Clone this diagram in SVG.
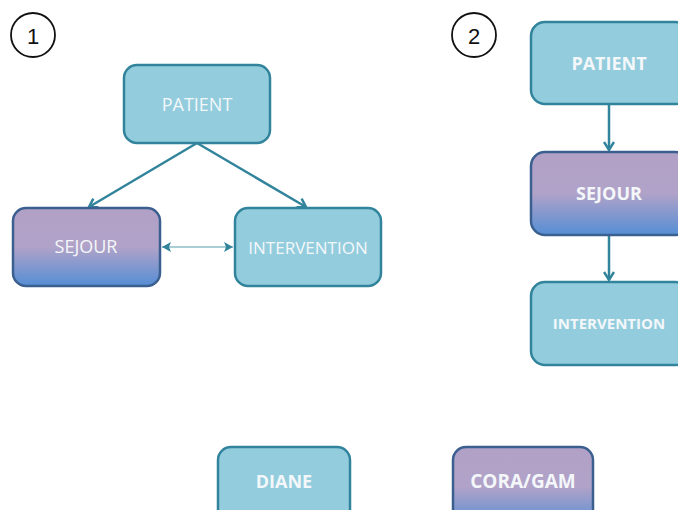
<svg xmlns="http://www.w3.org/2000/svg" width="678" height="510" viewBox="0 0 678 510">
<style>
.blue{fill:#93cddd;stroke:#31849b;stroke-width:2.5}
.purple{fill:url(#pg);stroke:#3b5f8f;stroke-width:2.5}
.t{font-family:"Open Sans","Noto Sans",sans-serif;font-size:18px;fill:#f4f7fa;text-anchor:middle;dominant-baseline:central}
.tb{font-weight:bold}
.num{font-family:"Liberation Sans",sans-serif;font-size:22px;fill:#111;text-anchor:middle;dominant-baseline:central}
.c{fill:#fff;stroke:#111;stroke-width:1.8}
.ln{stroke:#31849b;stroke-width:2.5;fill:none}
.thin{stroke:#8fbcc9;stroke-width:1.5;fill:none}
</style>
<defs>
<linearGradient id="pg" x1="0" y1="0" x2="0" y2="1">
<stop offset="0" stop-color="#b2a1c7"/>
<stop offset="0.5" stop-color="#b0a2c8"/>
<stop offset="1" stop-color="#558ed5"/>
</linearGradient>
<marker id="ah" markerWidth="12" markerHeight="12" refX="9" refY="6" orient="auto" markerUnits="userSpaceOnUse">
<path d="M1,1 L9,6 L1,11" fill="none" stroke="#31849b" stroke-width="2.5"/>
</marker>
<marker id="sa" markerWidth="10" markerHeight="12" refX="9" refY="6" orient="auto-start-reverse" markerUnits="userSpaceOnUse">
<path d="M0,1 L9,6 L0,11 L2,6 Z" fill="#31849b"/>
</marker>
</defs>
<g id="connectors">
<line class="ln" x1="197" y1="143" x2="89" y2="207" marker-end="url(#ah)"/>
<line class="ln" x1="197" y1="143" x2="306" y2="207" marker-end="url(#ah)"/>
<line class="thin" x1="162" y1="247" x2="233" y2="247" marker-start="url(#sa)" marker-end="url(#sa)"/>
<line class="ln" x1="609" y1="104" x2="609" y2="150" marker-end="url(#ah)"/>
<line class="ln" x1="609" y1="235" x2="609" y2="280" marker-end="url(#ah)"/>
</g>
<g id="label1"><circle class="c" cx="33" cy="35" r="22"/><text class="num" x="33" y="36">1</text></g>
<g id="label2"><circle class="c" cx="474" cy="35" r="22"/><text class="num" x="474" y="36">2</text></g>
<g id="patient1"><rect class="blue" x="124" y="65" width="146" height="78" rx="13"/><text class="t" x="197" y="104">PATIENT</text></g>
<g id="sejour1"><rect class="purple" x="13" y="208" width="147" height="78" rx="13"/><text class="t" x="86" y="246">SEJOUR</text></g>
<g id="intervention1"><rect class="blue" x="235" y="208" width="146" height="78" rx="13"/><text class="t" x="308" y="247" style="font-size:17px">INTERVENTION</text></g>
<g id="patient2"><rect class="blue" x="531" y="22" width="158" height="82" rx="14"/><text class="t tb" x="609" y="63">PATIENT</text></g>
<g id="sejour2"><rect class="purple" x="531" y="152" width="158" height="83" rx="14"/><text class="t tb" x="609" y="193">SEJOUR</text></g>
<g id="intervention2"><rect class="blue" x="531" y="282" width="158" height="83" rx="14"/><text class="t tb" x="609" y="323" style="font-size:15px">INTERVENTION</text></g>
<g id="diane"><rect class="blue" x="218" y="447" width="132" height="80" rx="13"/><text class="t tb" x="284" y="481">DIANE</text></g>
<g id="coragam"><rect class="purple" x="453" y="447" width="140" height="80" rx="13"/><text class="t tb" x="523" y="481" style="font-size:19px">CORA/GAM</text></g>
</svg>
